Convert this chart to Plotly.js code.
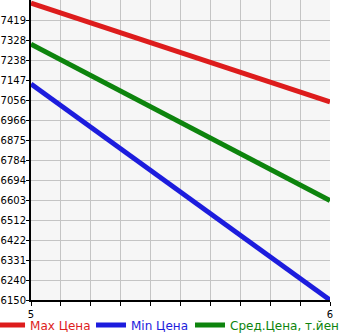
<!DOCTYPE html>
<html><head><meta charset="utf-8">
<script src="https://cdn.plot.ly/plotly-3.0.1.min.js"></script>
<style>body{margin:0;padding:0;background:#fff}#c{width:345px;height:335px}</style>
</head><body><div id="c"></div>
<script>
const xVals = [5, 6];
const maxPrice = [7496, 7048];
const minPrice = [7129, 6150];
const avgPrice = [7310, 6601];
const seriesNames = ['Max Цена', 'Min Цена', 'Сред.Цена, т.йен'];
const yTickVals = [6150, 6240.67, 6331.33, 6422, 6512.67, 6603.33, 6694, 6784.67, 6875.33, 6966, 7056.67, 7147.33, 7238, 7328.67, 7419.33];
const yTickText = ['6150','6240','6331','6422','6512','6603','6694','6784','6875','6966','7056','7147','7238','7328','7419'];
const xTickVals = [5,5.1,5.2,5.3,5.4,5.5,5.6,5.7,5.8,5.9,6];
const xTickText = ['5','','','','','','','','','','6'];

const colors = ['#dd1c1c', '#1c1cdd', '#0d840d'];
const legendIds = ['legend', 'legend2', 'legend3'];
const legendX = [-0.137, 0.2007, 0.5318];
const ys = [maxPrice, minPrice, avgPrice];
const traces = ys.map((y, i) => ({
  x: xVals, y: y, type: 'scatter', mode: 'lines',
  name: '<span style="color:' + colors[i] + '">' + seriesNames[i] + '</span>',
  line: {color: colors[i], width: 5},
  legend: legendIds[i]
}));

const layout = {
  width: 345, height: 335,
  margin: {l: 31, r: 15, t: 0, b: 35, autoexpand: false},
  paper_bgcolor: '#ffffff', plot_bgcolor: '#f6f6f6',
  font: {family: 'DejaVu Sans, sans-serif', size: 10, color: '#000'},
  showlegend: true,
  xaxis: {range: [5, 6], tickmode: 'array', tickvals: xTickVals, ticktext: xTickText,
    showgrid: true, gridcolor: '#c4c4c4', gridwidth: 1, zeroline: false,
    showline: true, linecolor: '#000', linewidth: 2, ticks: 'outside', ticklen: 4,
    tickcolor: '#000', tickfont: {size: 10}},
  yaxis: {range: [6150, 7510], tickmode: 'array', tickvals: yTickVals, ticktext: yTickText,
    showgrid: true, gridcolor: '#c4c4c4', gridwidth: 1, zeroline: false,
    showline: true, linecolor: '#000', linewidth: 2, ticks: 'outside', ticklen: 3,
    ticklabelstandoff: -2,
    tickcolor: '#000', tickfont: {size: 10}}
};
legendIds.forEach((id, i) => {
  layout[id] = {orientation: 'h', x: legendX[i], y: -0.035, xanchor: 'left', yanchor: 'top',
    font: {size: 12, family: 'DejaVu Sans, sans-serif'}, itemwidth: 30,
    bgcolor: 'rgba(0,0,0,0)'};
});
Plotly.newPlot('c', traces, layout, {displayModeBar: false, staticPlot: true});
</script></body></html>
